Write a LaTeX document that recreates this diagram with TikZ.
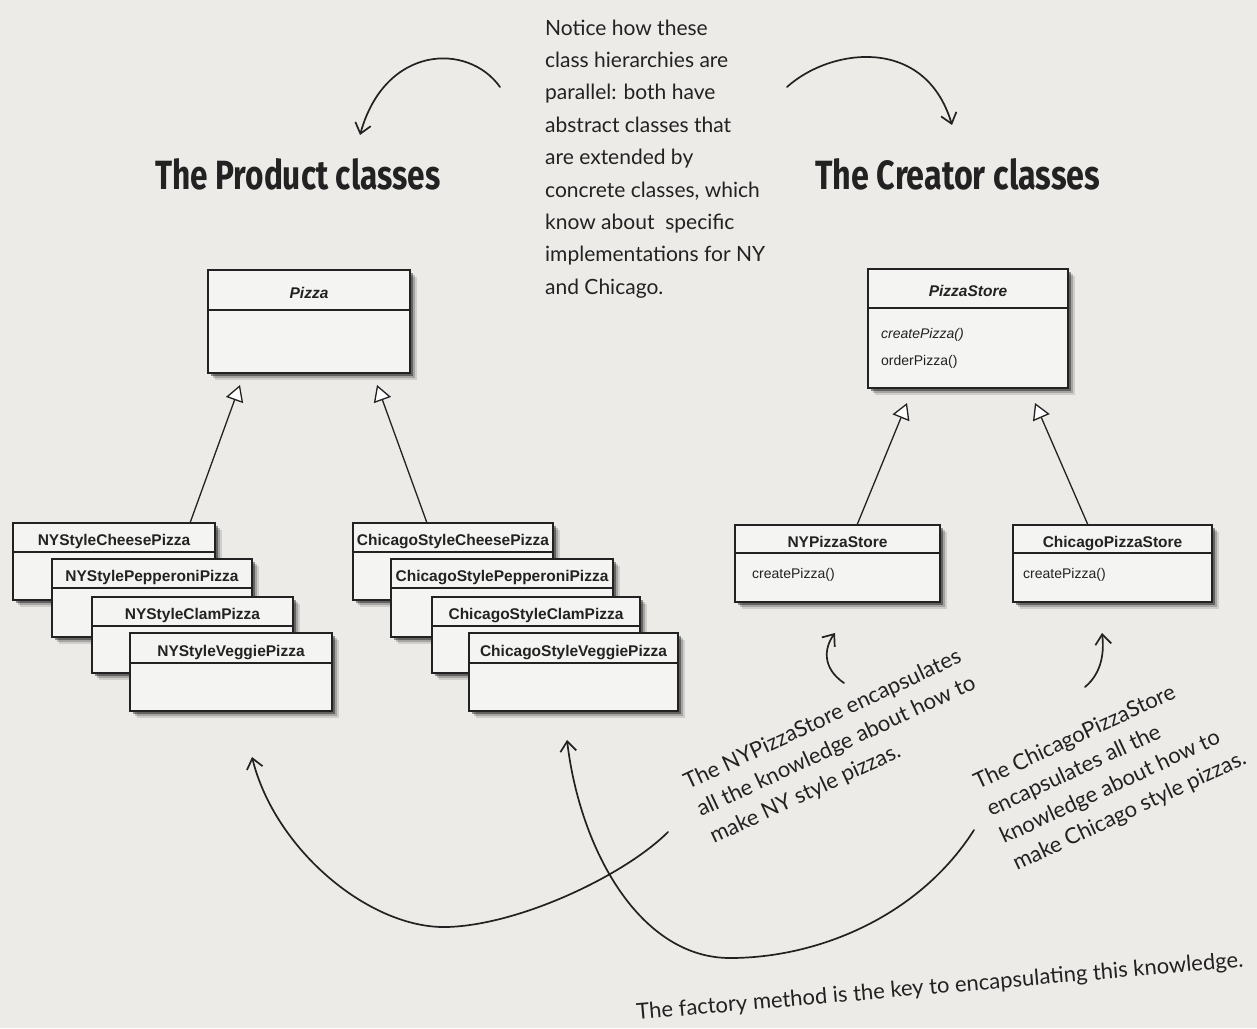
\documentclass[tikz,border=0pt]{standalone}
\usepackage{fontspec}
\setmainfont{Liberation Sans}
\newfontfamily\handfont{Lato}
\newfontfamily\headfont{Fira Sans}
\usepackage{graphicx}
\usetikzlibrary{arrows.meta,shadows,calc}
\definecolor{bg}{HTML}{ECEBE8}
\definecolor{boxfill}{HTML}{F4F4F2}
\definecolor{ink}{HTML}{222222}
\tikzset{
  umlbox/.style={draw=ink, line width=1.3pt, fill=boxfill, inner sep=0pt, outer sep=0pt,
    drop shadow={shadow xshift=7pt, shadow yshift=-7pt, opacity=.12, fill=black},
    drop shadow={shadow xshift=5pt, shadow yshift=-5pt, opacity=.2, fill=black},
    drop shadow={shadow xshift=2.5pt, shadow yshift=-2.5pt, opacity=.4, fill=black}},
  divline/.style={draw=ink, line width=1.1pt},
  clsname/.style={font=\fontsize{15.5}{15.5}\selectfont\bfseries, text=ink, inner sep=0pt, anchor=base},
  member/.style={font=\fontsize{14}{14}\selectfont, text=ink, inner sep=0pt, anchor=base west},
  note/.style={font=\handfont\fontsize{21}{24}\selectfont, text=ink, inner sep=0pt, anchor=base west},
  rnote/.style={note, font=\handfont\fontsize{22}{24}\selectfont},
  head/.style={font=\headfont\bfseries, text=ink, inner sep=0pt, anchor=base west},
  gen/.style={draw=ink, line width=1.3pt, -{Triangle[length=16pt,width=18pt,fill=white]}},
  hand/.style={draw=ink, line width=1.7pt, line cap=round,
    -{Straight Barb[length=10pt,width=16pt,line width=1.7pt]}},
}
% name, x1, y1, x2, y2, ydiv, title
\newcommand\umlbox[7]{%
  \pgfmathsetmacro\bw{#4-#2}%
  \pgfmathsetmacro\bh{#5-#3}%
  \pgfmathsetmacro\ty{(#3+#6)/2+8}%
  \pgfmathsetmacro\tx{(#2+#4)/2}%
  \node[umlbox, minimum width=\bw pt, minimum height=\bh pt, anchor=north west] (#1) at (#2,#3) {};
  \draw[divline] (#2,#6) -- (#4,#6);
  \node[clsname] (#1-title) at (\tx,\ty) {#7};
}
\begin{document}
\begin{tikzpicture}[x=1pt,y=-1pt]
\useasboundingbox (0,0) rectangle (1257,1028);
\fill[bg] (0,0) rectangle (1257,1028);

% Notice text
\node[note] (n1) at (545,35) {Notice how these};
\node[note] (n2) at (545,67.4) {class hierarchies are};
\node[note] (n3) at (545,99.8) {parallel: both have};
\node[note] (n4) at (545,132.2) {abstract classes that};
\node[note] (n5) at (545,164.6) {are extended by};
\node[note] (n6) at (545,197) {concrete classes, which};
\node[note] (n7) at (545,229.4) {know about\ \ specific};
\node[note] (n8) at (545,261.8) {implementations for NY};
\node[note] (n9) at (545,294.2) {and Chicago.};

% headings
\node[head] (prodhead) at (155,189) {\resizebox{285pt}{31pt}{The Product classes}};
\node[head] (creahead) at (815,189) {\resizebox{285pt}{31pt}{The Creator classes}};

% product classes
\umlbox{pizza}{208}{270}{410}{373}{310}{\itshape Pizza}
\umlbox{nych}{13}{523}{215}{600}{552}{NYStyleCheesePizza}
\umlbox{nypp}{52}{559}{252}{637}{588}{NYStylePepperoniPizza}
\umlbox{nycl}{92}{597}{293}{673}{626}{NYStyleClamPizza}
\umlbox{nyvg}{130}{633}{332}{711}{663}{NYStyleVeggiePizza}
\umlbox{chch}{353}{523}{553}{600}{552}{ChicagoStyleCheesePizza}
\umlbox{chpp}{391}{559}{613}{637}{588}{ChicagoStylePepperoniPizza}
\umlbox{chcl}{432}{597}{640}{673}{626}{ChicagoStyleClamPizza}
\umlbox{chvg}{469}{633}{678}{711}{663}{ChicagoStyleVeggiePizza}

% creator classes
\umlbox{pstore}{868}{269}{1068}{388}{308}{\itshape PizzaStore}
\node[member] (pstore-m1) at (881,338) {\itshape createPizza()};
\node[member] (pstore-m2) at (881,365) {orderPizza()};
\umlbox{nystore}{735}{525}{940}{602}{553}{NYPizzaStore}
\node[member] (nystore-m1) at (752,578) {createPizza()};
\umlbox{chstore}{1013}{525}{1212}{602}{553}{ChicagoPizzaStore}
\node[member] (chstore-m1) at (1023,578) {createPizza()};

% generalizations
\draw[gen] ($(nych.north west)+(177,0)$) -- ($(pizza.south west)+(32,12)$);
\draw[gen] ($(chch.north west)+(74,0)$) -- ($(pizza.south west)+(169,12)$);
\draw[gen] ($(nystore.north west)+(122,0)$) -- ($(pstore.south west)+(39,15)$);
\draw[gen] ($(chstore.north west)+(75,0)$) -- ($(pstore.south west)+(167,15)$);

% notes
\node[rnote, rotate=25] (nyn1) at (688,790) {The NYPizzaStore encapsulates};
\node[rnote, rotate=25] (nyn2) at (701,817) {all the knowledge about how to};
\node[rnote, rotate=25] (nyn3) at (714,844) {make NY style pizzas.};
\node[rnote, rotate=25] (chn1) at (978,790) {The ChicagoPizzaStore};
\node[rnote, rotate=25] (chn2) at (991,817) {encapsulates all the};
\node[rnote, rotate=25] (chn3) at (1004,844) {knowledge about how to};
\node[rnote, rotate=25] (chn4) at (1017,871) {make Chicago style pizzas.};
\node[rnote, rotate=5] (fm) at (637,1020) {The factory method is the key to encapsulating this knowledge.};

% hand-drawn arrows
\coordinate (startL) at (500,87);
\coordinate (startR) at (787,87);
\coordinate (startNY) at (844,683);
\coordinate (startCH) at (1085,687);
\coordinate (startBigNY) at (668,832);
\coordinate (startBigCH) at (974,830);
\draw[hand] (startL) .. controls (468,42) and (385,45) .. ($(prodhead.base west)+(205,-54)$);
\draw[hand] (startR) .. controls (830,48) and (925,35) .. ($(creahead.base west)+(137,-64)$);
\draw[hand] (startNY) .. controls (822,668) and (824,648) .. ($(nystore.south west)+(100,31)$);
\draw[hand] (startCH) .. controls (1103,672) and (1104,650) .. ($(chstore.south west)+(89,31)$);
\draw[hand] (startBigNY) .. controls (625,875) and (520,925) .. (447,927)
   .. controls (370,929) and (275,850) .. ($(nyvg.south west)+(122,46)$);
\draw[hand] (startBigCH) .. controls (920,915) and (820,958) .. (730,958)
   .. controls (640,958) and (580,850) .. ($(chvg.south west)+(98,29)$);
\end{tikzpicture}
\end{document}
